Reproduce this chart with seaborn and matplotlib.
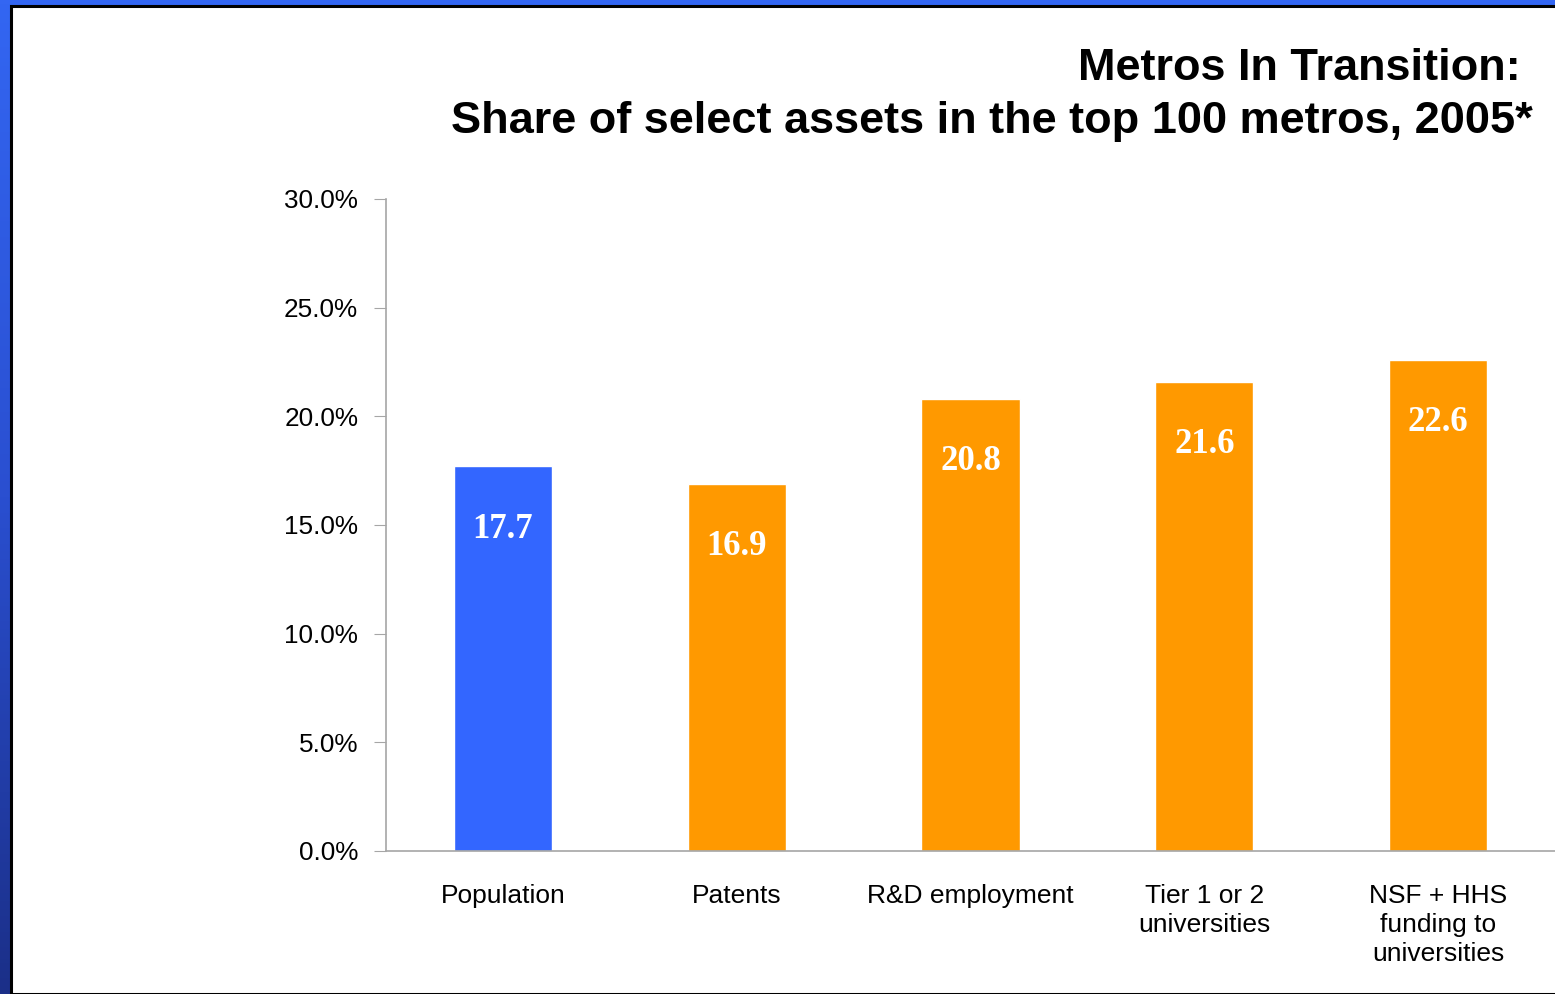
import numpy as np
import pandas as pd
import seaborn as sns
import matplotlib.pyplot as plt
from matplotlib.patches import Rectangle
from matplotlib.colors import LinearSegmentedColormap

# data
categories = ['Population', 'Patents', 'R&D employment', 'Tier 1 or 2\nuniversities',
              'NSF + HHS\nfunding to\nuniversities']
shares = [17.7, 16.9, 20.8, 21.6, 22.6]
bar_colors = ['#3366FF', '#FF9900', '#FF9900', '#FF9900', '#FF9900']
yticks = [0, 5, 10, 15, 20, 25, 30]

df = pd.DataFrame({'asset': categories, 'share': shares})

sns.set_style('white')
plt.rcParams['font.family'] = ['Liberation Sans', 'DejaVu Sans']
plt.rcParams['text.color'] = 'black'
plt.rcParams['xtick.labelcolor'] = 'black'
plt.rcParams['ytick.labelcolor'] = 'black'

fig = plt.figure(figsize=(15.55, 9.94), dpi=100)

# slide frame: blue gradient border, black edge, white page
bg = fig.add_axes([0, 0, 1, 1], zorder=-5)
grad = np.linspace(0, 1, 256).reshape(-1, 1)
cmap = LinearSegmentedColormap.from_list('frame', ['#3366F2', '#2A4FD0', '#1B2F88'])
bg.imshow(grad, aspect='auto', cmap=cmap, extent=[0, 1, 0, 1], origin='upper')
bg.set_xlim(0, 1)
bg.set_ylim(0, 1)
bg.axis('off')
W, H = 1555, 994
bg.add_patch(Rectangle((11 / W, 0), 1, 1 - 6 / H, facecolor='white',
                       edgecolor='black', linewidth=2.2))

ax = fig.add_axes([386 / W, 1 - 851 / H, 1 - 386 / W, (851 - 199) / H])
sns.barplot(data=df, x='asset', y='share', hue='asset', palette=bar_colors,
            width=0.42, saturation=1, legend=False, ax=ax)

for i, v in enumerate(shares):
    ax.text(i, v - 2.9, f'{v:.1f}', ha='center', va='center', color='white',
            fontsize=25, fontweight='bold', family=['Liberation Serif', 'DejaVu Serif'])

ax.set_xlim(-0.5, 4.5)
ax.set_ylim(0, 30)
ax.set_yticks(yticks)
ax.set_yticklabels([f'{t:.1f}%' for t in yticks], fontsize=18.8)
ax.set_xlabel('')
ax.set_ylabel('')
ax.set_xticks(range(len(categories)))
ax.set_xticklabels(categories, fontsize=19, linespacing=1.25)
ax.set_xticks([0.5, 1.5, 2.5, 3.5], minor=True)
ax.tick_params(axis='x', which='major', length=0, pad=24)
ax.tick_params(axis='x', which='minor', length=8, color='#A6A6A6', direction='out')
ax.tick_params(axis='y', length=9, color='#A6A6A6', direction='out', pad=11, left=True)
for s in ['top', 'right']:
    ax.spines[s].set_visible(False)
for s in ['left', 'bottom']:
    ax.spines[s].set_color('#A6A6A6')
    ax.spines[s].set_linewidth(1.2)
ax.set_facecolor('none')

fig.text(1521 / W, 1 - 68 / H, 'Metros In Transition:', ha='right', va='center',
         fontsize=32.5, fontweight='bold')
fig.text(1533 / W, 1 - 122 / H, 'Share of select assets in the top 100 metros, 2005*',
         ha='right', va='center', fontsize=32.5, fontweight='bold')

fig.savefig('out.png', dpi=100)
